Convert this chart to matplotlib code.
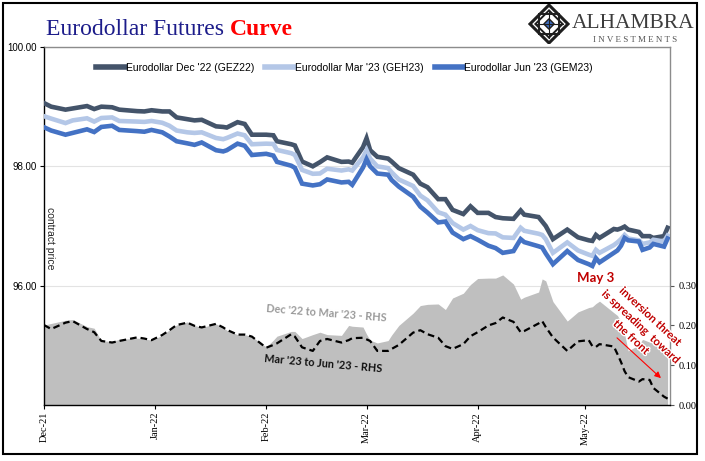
import pandas as pd
import matplotlib.pyplot as plt
import matplotlib.dates as mdates
from matplotlib import patheffects
from matplotlib.patches import Polygon, Rectangle
from matplotlib.ticker import FormatStrFormatter

dates = [
    "2021-12-01", "2021-12-03", "2021-12-07", "2021-12-09", "2021-12-13", "2021-12-15",
    "2021-12-17", "2021-12-20", "2021-12-22", "2021-12-27", "2021-12-29", "2021-12-31",
    "2022-01-03", "2022-01-05", "2022-01-07", "2022-01-10", "2022-01-12", "2022-01-14",
    "2022-01-18", "2022-01-20", "2022-01-21", "2022-01-24", "2022-01-26", "2022-01-28",
    "2022-02-01", "2022-02-03", "2022-02-04", "2022-02-08", "2022-02-09", "2022-02-11",
    "2022-02-14", "2022-02-16", "2022-02-18", "2022-02-22", "2022-02-24", "2022-02-25",
    "2022-02-28", "2022-03-01", "2022-03-02", "2022-03-04", "2022-03-07", "2022-03-08",
    "2022-03-10", "2022-03-14", "2022-03-16", "2022-03-18", "2022-03-21", "2022-03-23",
    "2022-03-25", "2022-03-28", "2022-03-30", "2022-04-01", "2022-04-04", "2022-04-06",
    "2022-04-08", "2022-04-11", "2022-04-13", "2022-04-14", "2022-04-18", "2022-04-19",
    "2022-04-20", "2022-04-22", "2022-04-26", "2022-04-29", "2022-05-02", "2022-05-03",
    "2022-05-04", "2022-05-05", "2022-05-09", "2022-05-10", "2022-05-11", "2022-05-12",
    "2022-05-13", "2022-05-16", "2022-05-17", "2022-05-19", "2022-05-20", "2022-05-23",
    "2022-05-24",
]

gez22 = [
    99.06, 99.00, 98.95, 98.97, 99.01, 98.96, 99.00, 98.99, 98.95, 98.925, 98.92, 98.94,
    98.92, 98.92, 98.82, 98.79, 98.77, 98.78, 98.67, 98.66, 98.65, 98.74, 98.71, 98.53,
    98.53, 98.52, 98.42, 98.37, 98.35, 98.08, 98.00, 98.07, 98.15, 98.075, 98.08, 98.06,
    98.32, 98.47, 98.27, 98.16, 98.13, 98.08, 97.97, 97.86, 97.71, 97.65, 97.45, 97.45,
    97.27, 97.20, 97.33, 97.22, 97.22, 97.15, 97.13, 97.12, 97.26, 97.19, 97.15, 97.075,
    97.00, 96.78, 96.94, 96.81, 96.76, 96.75, 96.85, 96.80, 96.95, 96.94, 96.96, 96.99,
    96.94, 96.90, 96.83, 96.83, 96.80, 96.83, 96.97,
]

geh23 = [
    98.84, 98.80, 98.725, 98.77, 98.805, 98.75, 98.81, 98.82, 98.76, 98.75, 98.745, 98.76,
    98.73, 98.68, 98.60, 98.57, 98.56, 98.57, 98.475, 98.455, 98.475, 98.55, 98.52, 98.37,
    98.38, 98.375, 98.275, 98.22, 98.19, 97.94, 97.875, 97.88, 97.96, 97.93, 97.95, 97.93,
    98.15, 98.27, 98.13, 98.00, 97.97, 97.90, 97.78, 97.67, 97.51, 97.43, 97.23, 97.19,
    97.05, 96.94, 97.00, 96.93, 96.88, 96.875, 96.81, 96.80, 96.97, 96.92, 96.87, 96.85,
    96.78, 96.55, 96.725, 96.59, 96.52, 96.50, 96.60, 96.55, 96.68, 96.725, 96.78, 96.85,
    96.79, 96.76, 96.70, 96.725, 96.77, 96.74, 96.84,
]

gem23 = [
    98.655, 98.60, 98.53, 98.56, 98.62, 98.575, 98.66, 98.68, 98.61, 98.59, 98.58, 98.61,
    98.57, 98.50, 98.42, 98.385, 98.36, 98.40, 98.27, 98.25, 98.27, 98.38, 98.345, 98.19,
    98.21, 98.18, 98.075, 98.01, 97.975, 97.71, 97.68, 97.70, 97.78, 97.73, 97.74, 97.69,
    97.98, 98.12, 98.00, 97.88, 97.86, 97.77, 97.66, 97.49, 97.325, 97.225, 97.06, 97.075,
    96.89, 96.78, 96.83, 96.77, 96.67, 96.63, 96.55, 96.58, 96.78, 96.73, 96.66, 96.64,
    96.54, 96.36, 96.58, 96.43, 96.36, 96.33, 96.46, 96.39, 96.55, 96.59, 96.67, 96.80,
    96.76, 96.74, 96.60, 96.64, 96.70, 96.655, 96.79,
]

# calendar spreads (right-hand scale)
dec_mar = [
    0.201, 0.205, 0.213, 0.215, 0.197, 0.193, 0.161, 0.160, 0.165, 0.168, 0.166, 0.163,
    0.175, 0.189, 0.201, 0.209, 0.200, 0.195, 0.204, 0.195, 0.188, 0.177, 0.177, 0.172,
    0.146, 0.163, 0.173, 0.185, 0.185, 0.167, 0.177, 0.183, 0.177, 0.175, 0.200, 0.198,
    0.196, 0.178, 0.163, 0.156, 0.162, 0.176, 0.200, 0.231, 0.250, 0.253, 0.254, 0.240,
    0.269, 0.281, 0.303, 0.318, 0.319, 0.319, 0.327, 0.304, 0.266, 0.271, 0.284, 0.317,
    0.312, 0.260, 0.211, 0.234, 0.245, 0.247, 0.255, 0.261, 0.232, 0.225, 0.209, 0.178,
    0.136, 0.151, 0.165, 0.158, 0.156, 0.142, 0.138,
]

mar_jun = [
    0.201, 0.191, 0.207, 0.211, 0.191, 0.183, 0.161, 0.157, 0.161, 0.170, 0.167, 0.163,
    0.176, 0.188, 0.201, 0.207, 0.199, 0.195, 0.204, 0.195, 0.189, 0.177, 0.177, 0.172,
    0.144, 0.151, 0.155, 0.178, 0.172, 0.145, 0.136, 0.161, 0.166, 0.157, 0.163, 0.168,
    0.169, 0.165, 0.161, 0.136, 0.136, 0.141, 0.151, 0.182, 0.188, 0.178, 0.169, 0.148,
    0.141, 0.153, 0.173, 0.183, 0.200, 0.206, 0.220, 0.209, 0.183, 0.186, 0.205, 0.211,
    0.196, 0.170, 0.136, 0.160, 0.163, 0.148, 0.146, 0.153, 0.147, 0.128, 0.108, 0.085,
    0.070, 0.059, 0.065, 0.063, 0.043, 0.021, 0.016,
]

series_labels = ["Eurodollar Dec '22 (GEZ22)", "Eurodollar Mar '23 (GEH23)", "Eurodollar Jun '23 (GEM23)"]
price_ticks = [96, 98, 100]
spread_ticks = [0.0, 0.1, 0.2, 0.3]

W, H = 705, 461
AX_L, AX_R, AX_T, AX_B = 44, 670, 47, 405

x = pd.to_datetime(dates)

fig = plt.figure(figsize=(W / 100, H / 100), dpi=100)
ax = fig.add_axes([AX_L / W, 1 - AX_B / H, (AX_R - AX_L) / W, (AX_B - AX_T) / H])
axp = ax.twinx()
ax.yaxis.tick_right()
axp.yaxis.tick_left()


def frac(px, py):
    # pixel position in the picture -> axes fraction
    return (px - AX_L) / (AX_R - AX_L), (AX_B - py) / (AX_B - AX_T)


# spreads on the right-hand scale
p_lo, p_hi = 94, 100
s_hi = 0.9
for t in price_ticks:
    ax.axhline((t - p_lo) / (p_hi - p_lo) * s_hi, color="#e3e3e3", lw=0.8, zorder=0)
ax.fill_between(x, 0, dec_mar, color="#bfbfbf", lw=0, zorder=1)
ax.plot(x, mar_jun, color="black", lw=1.6, ls=(0, (3, 1.8)), zorder=2)
ax.set_ylim(0, s_hi)
ax.set_yticks(spread_ticks)
ax.yaxis.set_major_formatter(FormatStrFormatter("%.2f"))

# prices on the left-hand scale
colors = ["#44546a", "#b4c7e7", "#4472c4"]
for vals, c, lab in zip([gez22, geh23, gem23], colors, series_labels):
    axp.plot(x, vals, color=c, lw=3.3, label=lab, solid_joinstyle="miter")
axp.set_ylim(p_lo, p_hi)
axp.set_yticks(price_ticks)
axp.yaxis.set_major_formatter(FormatStrFormatter("%.2f"))

ax.set_xlim(pd.Timestamp("2021-12-01"), pd.Timestamp("2022-05-24 16:00"))
ax.xaxis.set_major_locator(mdates.MonthLocator())
ax.xaxis.set_major_formatter(mdates.DateFormatter("%b-%y"))

ax.tick_params(axis="x", direction="out", length=3, width=0.8, pad=2, labelsize=7.5,
               labelrotation=90, labelfontfamily="Liberation Serif")
ax.tick_params(axis="y", direction="out", length=3, width=0.8, pad=3, labelsize=7.5,
               color="#555555", labelfontfamily="Liberation Serif")
axp.tick_params(axis="y", direction="out", length=3, width=0.8, pad=2, labelsize=7,
                labelfontfamily="Liberation Sans")

for s in ["left", "bottom"]:
    ax.spines[s].set_color("black")
    ax.spines[s].set_linewidth(1.0)
for s in ["top", "right"]:
    ax.spines[s].set_color("#8c8c8c")
    ax.spines[s].set_linewidth(1.0)
for s in axp.spines.values():
    s.set_visible(False)

leg = axp.legend(loc="center", bbox_to_anchor=(0.48, 0.941), ncol=3, frameon=False,
                 handlelength=2.7, handletextpad=0.1, columnspacing=1.1,
                 prop={"family": "Liberation Sans", "size": 7.5})
for h in leg.get_lines():
    h.set_linewidth(4)

ax.text(*frac(50, 238), "contract price", transform=ax.transAxes, rotation=270,
        ha="center", va="center", fontsize=7.5, family="Liberation Sans", color="#262626")

ax.text(*frac(326, 313), "Dec '22 to Mar '23 - RHS", transform=ax.transAxes, rotation=-4.5,
        ha="center", va="center", fontsize=7.8, family="Lato", fontweight="bold", color="#9a9a9a",
        rotation_mode="anchor")
ax.text(*frac(323, 364), "Mar '23 to Jun '23 - RHS", transform=ax.transAxes, rotation=-5,
        ha="center", va="center", fontsize=7.8, family="Lato", fontweight="bold", color="#111111",
        rotation_mode="anchor")
ax.text(*frac(596, 278), "May 3", transform=ax.transAxes, ha="center", va="center",
        fontsize=9.5, family="Lato", fontweight="bold", color="#c00000")
ax.text(*frac(641, 327), "inversion threat\nis spreading  toward\nthe front", transform=ax.transAxes,
        rotation=-43, ha="center", va="center", ma="center", rotation_mode="anchor",
        fontsize=8.2, family="Lato", fontweight="bold", color="#c00000", linespacing=1.35,
        path_effects=[patheffects.withStroke(linewidth=2, foreground="white")], clip_on=False,
        zorder=5)
ax.annotate("", xy=frac(663, 380), xytext=frac(615, 336), xycoords="axes fraction",
            arrowprops=dict(arrowstyle="-|>", color="#ff0000", lw=0.8, mutation_scale=9),
            zorder=5)

# title in two colours
r = fig.canvas.get_renderer()
t1 = fig.text(46 / W, 1 - 35 / H, "Eurodollar Futures ", fontsize=17, family="Liberation Serif",
              color="#1c1c8a", va="baseline")
bb = t1.get_window_extent(r)
fig.text(bb.x1 / W, 1 - 35 / H, "Curve", fontsize=17, family="Liberation Serif",
         fontweight="bold", color="#ff0000", va="baseline")

# logo
lax = fig.add_axes([528 / W, 1 - 44 / H, 42 / W, 40 / H])
lax.set_xlim(-1.05, 1.05)
lax.set_ylim(-1, 1)
lax.axis("off")


def diamond(s):
    return [(0, s), (s, 0), (0, -s), (-s, 0)]


lax.add_patch(Polygon(diamond(0.95), closed=True, fill=False, ec="#1e1e1e", lw=2.2))
lax.add_patch(Rectangle((-0.48, -0.48), 0.96, 0.96, fill=False, ec="#1e1e1e", lw=1.4))
lax.add_patch(Polygon(diamond(0.68), closed=True, fill=False, ec="#1e1e1e", lw=1.4))
lax.add_patch(Polygon(diamond(0.26), closed=True, fc="#3f6fc2", ec="#1e1e1e", lw=1.0))
for a, b in [((-0.68, 0), (0.68, 0)), ((0, -0.68), (0, 0.68))]:
    lax.plot([a[0], b[0]], [a[1], b[1]], color="#1e1e1e", lw=0.8)

fig.text(572 / W, 1 - 23 / H, "ALHAMBRA", fontsize=15.5, family="Liberation Serif",
         color="#3c3c3c", va="center")
fig.text(593 / W, 1 - 40.5 / H, "I N V E S T M E N T S", fontsize=6.5, family="Liberation Serif",
         color="#555555", va="center")

# outer frame
fig.patches.append(Rectangle((3 / W, 7 / H), 694 / W, 451 / H, transform=fig.transFigure,
                             fill=False, ec="black", lw=1.5))

fig.savefig("out.png", dpi=100)
